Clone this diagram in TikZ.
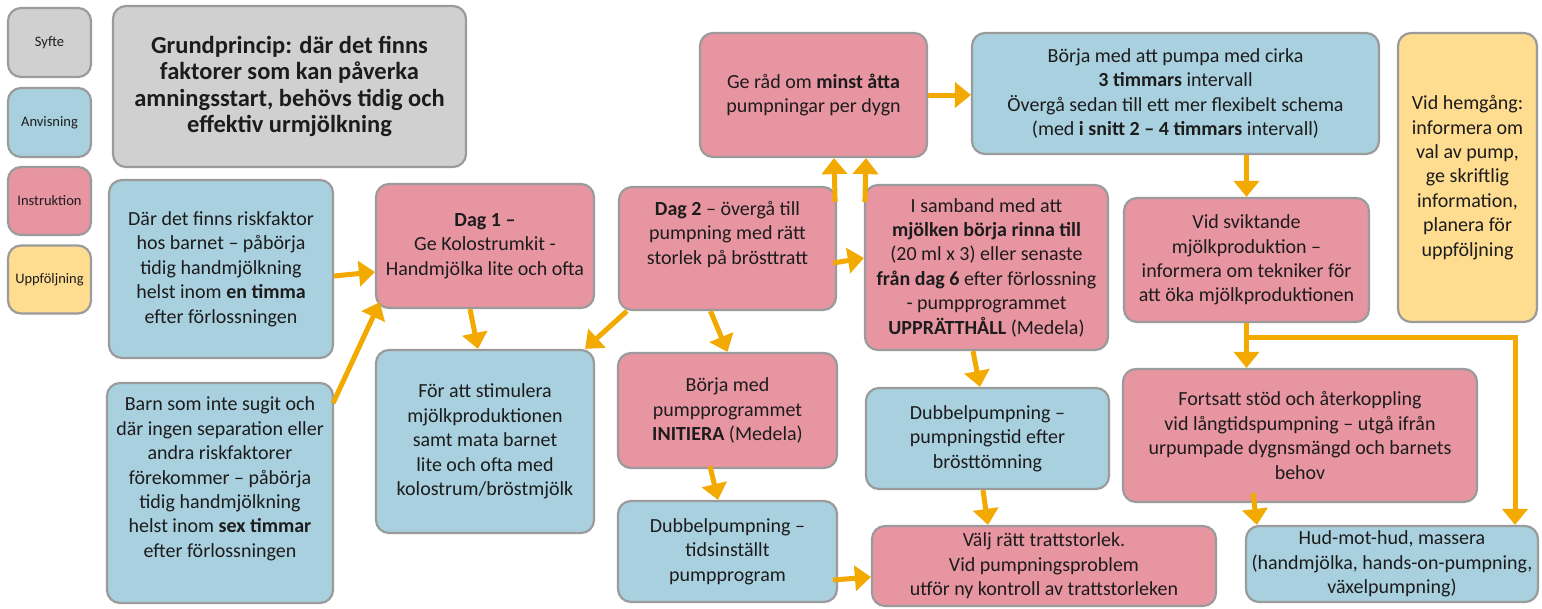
\documentclass[tikz,border=0pt]{standalone}
\usepackage{fontspec}
\setmainfont{Carlito}
\usetikzlibrary{arrows.meta}

\definecolor{boxgray}{HTML}{D0D0D0}
\definecolor{boxblue}{HTML}{A9D0DF}
\definecolor{boxpink}{HTML}{E895A2}
\definecolor{boxyellow}{HTML}{FEDC90}
\definecolor{edge}{HTML}{9B9B9B}
\definecolor{flow}{HTML}{F2A900}
\definecolor{ink}{HTML}{1C1C1C}

\tikzset{
  card/.style={draw=edge, line width=2.2pt, rounded corners=13pt, align=center,
    text=ink, inner sep=0pt, font=\fontsize{20}{24.4}\selectfont},
  purpose/.style={card, fill=boxgray},
  guide/.style={card, fill=boxblue},
  instr/.style={card, fill=boxpink},
  follow/.style={card, fill=boxyellow},
  legendtext/.style={font=\fontsize{14.5}{17}\selectfont},
  dims/.style 2 args={minimum width=#1pt, minimum height=#2pt},
  flowarrow/.style={draw=flow, line width=5pt, -{Triangle[width=25pt,length=16pt]}},
}

\begin{document}
\begin{tikzpicture}[x=1pt,y=-1pt]
\fill[white] (0,0) rectangle (1542,608);
\useasboundingbox (0,0) rectangle (1542,608);

% legend
\node[purpose, legendtext, dims={83}{69}] (legSyfte) at (49.5,42.5) {Syfte};
\node[guide, legendtext, dims={83}{69}] (legAnvisning) at (49.5,122.5) {Anvisning};
\node[instr, legendtext, dims={83}{68}] (legInstruktion) at (49.5,201) {Instruktion};
\node[follow, legendtext, dims={83}{68}] (legUppfoljning) at (49.5,279.5) {Uppföljning};

% principle
\node[purpose, dims={353}{161}, font=\bfseries\fontsize{24.5}{26.5}\selectfont] (title) at (289.5,86.5)
  {Grundprincip: där det finns\\faktorer som kan påverka\\amningsstart, behövs tidig och\\effektiv urmjölkning};

% left column
\node[guide, dims={224}{178}] (a) at (221,269)
  {Där det finns riskfaktor\\hos barnet – påbörja\\tidig handmjölkning\\helst inom \textbf{en timma}\\efter förlossningen};
\node[guide, dims={226}{220}] (b) at (220,493)
  {Barn som inte sugit och\\där ingen separation eller\\andra riskfaktorer\\förekommer – påbörja\\tidig handmjölkning\\helst inom \textbf{sex timmar}\\efter förlossningen\\\strut};

% day 1
\node[instr, dims={218}{124}] (dag1) at (485,246)
  {\textbf{Dag 1 –}\\Ge Kolostrumkit -\\Handmjölka lite och ofta};
\node[guide, dims={218}{183}] (foratt) at (485,441.5)
  {För att stimulera\\mjölkproduktionen\\samt mata barnet\\lite och ofta med\\kolostrum/bröstmjölk};

% day 2 and pumping
\node[instr, dims={227}{124}] (gerad) at (813.5,95)
  {Ge råd om \textbf{minst åtta}\\pumpningar per dygn};
\node[instr, dims={217}{123}] (dag2) at (727.5,248.5)
  {\textbf{Dag 2} – övergå till\\pumpning med rätt\\storlek på brösttratt\\\strut};
\node[instr, dims={243}{165}] (isamband) at (986.5,267.5)
  {I samband med att\\\textbf{mjölken börja rinna till}\\(20 ml x 3) eller senaste\\\textbf{från dag 6} efter förlossning\\- pumpprogrammet\\\textbf{UPPRÄTTHÅLL} (Medela)};
\node[instr, dims={219}{115}] (initiera) at (727.5,410.5)
  {Börja med\\pumpprogrammet\\\textbf{INITIERA} (Medela)};
\node[guide, dims={219}{101}] (dubbel1) at (727.5,551.5)
  {Dubbelpumpning –\\tidsinställt\\pumpprogram};
\node[guide, dims={243}{101}] (dubbel2) at (987.5,438.5)
  {Dubbelpumpning –\\pumpningstid efter\\brösttömning};
\node[instr, dims={344}{80}] (valj) at (1044,566)
  {Välj rätt trattstorlek.\\Vid pumpningsproblem\\utför ny kontroll av trattstorleken};

% right part
\node[guide, dims={407}{121}] (pumpa) at (1175.5,93.5)
  {Börja med att pumpa med cirka\\\textbf{3 timmars} intervall\\Övergå sedan till ett mer flexibelt schema\\(med \textbf{i snitt 2 – 4 timmars} intervall)};
\node[instr, dims={245}{124}] (svikt) at (1246.5,260)
  {Vid sviktande\\mjölkproduktion –\\informera om tekniker för\\att öka mjölkproduktionen};
\node[follow, dims={139}{289}] (hemgang) at (1467.5,177.5)
  {Vid hemgång:\\informera om\\val av pump,\\ge skriftlig\\information,\\planera för\\uppföljning};
\node[instr, dims={354}{133}] (fortsatt) at (1300,435.5)
  {Fortsatt stöd och återkoppling\\vid långtidspumpning – utgå ifrån\\urpumpade dygnsmängd och barnets\\behov};
\node[guide, dims={292}{76}] (hud) at (1392,564)
  {Hud-mot-hud, massera\\(handmjölka, hands-on-pumpning,\\växelpumpning)};

% connectors
\draw[flowarrow] ([yshift=-7pt]a.east) -- ([yshift=-26pt]dag1.west);
\draw[flowarrow] ([xshift=-1pt,yshift=90pt]b.east) -- ([xshift=5pt,yshift=7pt]dag1.south west);
\draw[flowarrow] ([xshift=-15pt]dag1.south) -- ([xshift=-7pt]foratt.north);
\draw[flowarrow] ([xshift=9pt]dag2.south west) -- ([xshift=-10pt]foratt.north east);
\draw[flowarrow] ([xshift=-17pt]dag2.south) -- (initiera.north);
\draw[flowarrow] ([xshift=-2pt,yshift=-16pt]dag2.north east) -- ([xshift=20.5pt]gerad.south);
\draw[flowarrow] ([xshift=1pt,yshift=-18pt]isamband.north west) -- ([xshift=52.5pt]gerad.south);
\draw[flowarrow] ([xshift=-4pt,yshift=-14.5pt]dag2.east) -- ([yshift=9.5pt]isamband.west);
\draw[flowarrow] (gerad.east) -- (pumpa.west |- gerad.east);
\draw[flowarrow] (svikt.north |- pumpa.south) -- (svikt.north);
\draw[flowarrow] (svikt.south) -- (svikt.south |- fortsatt.north);
\draw[flowarrow] (svikt.south) -- ++(0,14) -| ([xshift=123pt]hud.north);
\draw[flowarrow] ([xshift=-47pt,yshift=10pt]fortsatt.south) -- ([xshift=12pt]hud.north west);
\draw[flowarrow] ([xshift=-13.5pt]isamband.south) -- ([xshift=-7.5pt]dubbel2.north);
\draw[flowarrow] ([xshift=-4.5pt]dubbel2.south) -- ([xshift=-56pt]valj.north);
\draw[flowarrow] ([xshift=-17.5pt,yshift=3pt]initiera.south) -- ([xshift=-9.5pt]dubbel1.north);
\draw[flowarrow] ([xshift=-5pt,yshift=-28.5pt]dubbel1.east) -- ([yshift=-11pt]valj.west);
\end{tikzpicture}
\end{document}
